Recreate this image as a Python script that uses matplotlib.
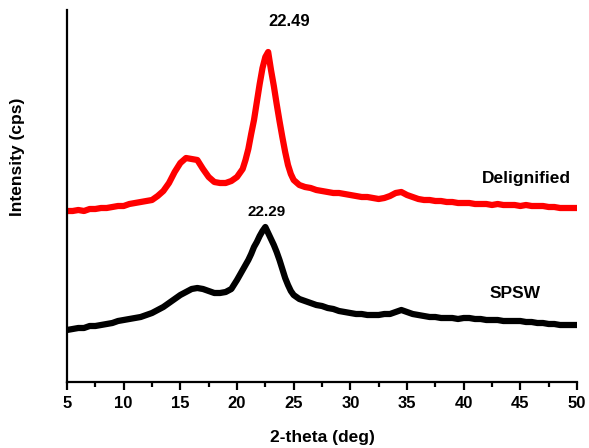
import matplotlib
matplotlib.use("Agg")
import matplotlib.pyplot as plt
from matplotlib.ticker import MultipleLocator

plt.rcParams['font.family'] = ['Liberation Sans', 'DejaVu Sans']
plt.rcParams['font.weight'] = 'bold'

# 2-theta sampling (deg), denser around the main peak
two_theta = [5.0, 5.5, 6.0, 6.5, 7.0, 7.5, 8.0, 8.5, 9.0, 9.5, 10.0, 10.5, 11.0, 11.5,
             12.0, 12.5, 13.0, 13.5, 14.0, 14.5, 15.0, 15.5, 16.0, 16.5, 17.0, 17.5,
             18.0, 18.5, 19.0, 19.5, 20.0,
             20.25, 20.5, 20.75, 21.0, 21.25, 21.5, 21.75, 22.0, 22.25, 22.5, 22.75,
             23.0, 23.25, 23.5, 23.75, 24.0, 24.25, 24.5, 24.75, 25.0,
             25.5, 26.0, 26.5, 27.0, 27.5, 28.0, 28.5, 29.0, 29.5, 30.0, 30.5, 31.0,
             31.5, 32.0, 32.5, 33.0, 33.5, 34.0, 34.5, 35.0, 35.5, 36.0, 36.5, 37.0,
             37.5, 38.0, 38.5, 39.0, 39.5, 40.0, 40.5, 41.0, 41.5, 42.0, 42.5, 43.0,
             43.5, 44.0, 44.5, 45.0, 45.5, 46.0, 46.5, 47.0, 47.5, 48.0, 48.5, 49.0,
             49.5, 50.0]

# Delignified (offset upward in the original plot)
delignified = [171, 171, 172, 171, 173, 173, 174, 174, 175, 176, 176, 178, 179, 180,
               181, 182, 186, 191, 199, 210, 219, 224, 223, 222, 213, 205,
               200, 199, 199, 201, 205,
               209, 213, 222, 233, 248, 262, 280, 298, 314, 325, 330,
               312, 296, 278, 261, 245, 230, 217, 208, 202,
               197, 195, 194, 192, 191, 190, 189, 189, 188, 187, 186, 185,
               185, 184, 183, 184, 186, 189, 190, 187, 185, 183, 182, 182,
               181, 181, 180, 180, 179, 179, 179, 178, 178, 178, 177, 178,
               177, 177, 177, 176, 177, 176, 176, 176, 175, 175, 174, 174,
               174, 174]

# SPSW (raw)
spsw = [52, 53, 54, 54, 56, 56, 57, 58, 59, 61, 62, 63, 64, 65,
        67, 69, 72, 75, 79, 83, 87, 90, 93, 94, 93, 91,
        89, 89, 90, 93, 102,
        107, 112, 117, 122, 128, 135, 140, 146, 151, 155, 149,
        143, 137, 130, 122, 113, 104, 97, 91, 87,
        83, 81, 79, 77, 76, 74, 73, 71, 70, 69, 68, 68,
        67, 67, 67, 68, 68, 70, 72, 70, 68, 67, 66, 65,
        65, 64, 64, 64, 63, 64, 64, 63, 63, 62, 62, 62,
        61, 61, 61, 61, 60, 60, 59, 59, 58, 58, 57, 57,
        57, 57]

fig = plt.figure(figsize=(5.89, 4.48), dpi=100)
ax = fig.add_axes([67 / 589, 66 / 448, 510 / 589, 372 / 448])

ax.plot(two_theta, delignified, color='#ff0000', linewidth=4.5, solid_joinstyle='round')
ax.plot(two_theta, spsw, color='black', linewidth=4.5, solid_joinstyle='round')

ax.text(24.6, 360, '22.49', ha='center', va='center', fontsize=12, fontweight='bold')
ax.text(22.65, 170, '22.29', ha='center', va='center', fontsize=11, fontweight='bold')
ax.text(45.5, 203, 'Delignified', ha='center', va='center', fontsize=12.5, fontweight='bold')
ax.text(44.5, 89, 'SPSW', ha='center', va='center', fontsize=12.5, fontweight='bold')

ax.set_xlim(5, 50)
ax.set_ylim(0, 372)
ax.xaxis.set_major_locator(MultipleLocator(5))
ax.xaxis.set_minor_locator(MultipleLocator(2.5))
ax.set_yticks([])

for side in ['top', 'right']:
    ax.spines[side].set_visible(False)
for side in ['left', 'bottom']:
    ax.spines[side].set_linewidth(1.6)

ax.tick_params(axis='x', which='major', direction='out', length=6, width=1.6,
               labelsize=12, pad=4)
ax.tick_params(axis='x', which='minor', direction='out', length=3.5, width=1.6)
for lbl in ax.get_xticklabels():
    lbl.set_fontweight('bold')

fig.text(322 / 589, 1 - 437 / 448, '2-theta (deg)', ha='center', va='center',
         fontsize=12.5, fontweight='bold')
fig.text(18 / 589, 1 - 157 / 448, 'Intensity (cps)', ha='center', va='center',
         rotation=90, fontsize=12.5, fontweight='bold')

fig.savefig('out.png', dpi=100)
